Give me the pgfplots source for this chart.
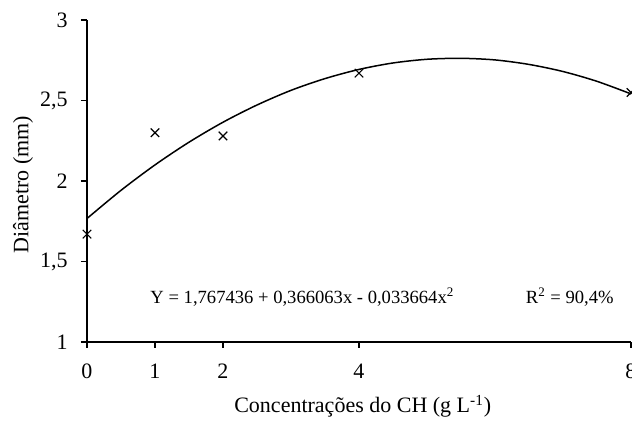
\documentclass[border=0pt]{standalone}
\usepackage{fontspec}
\setmainfont{Liberation Serif}
\usepackage{pgfplots}
\pgfplotsset{compat=1.18}
\begin{document}
\fontsize{11}{13}\selectfont
\begin{tikzpicture}
\begin{axis}[
  name=ax,
  scale only axis, width=272pt, height=161pt,
  xmin=0, xmax=8, ymin=1, ymax=3,
  axis x line*=bottom, axis y line*=left,
  axis line style={line width=0.6pt},
  xtick={0,1,2,4,8}, ytick={1,1.5,2,2.5,3},
  tick align=outside, major tick length=3pt,
  tick style={line width=0.6pt, black},
  /pgf/number format/use comma,
  /pgf/number format/assume math mode=true,
  ticklabel style={font=\fontsize{11}{13}\selectfont},
  xticklabel style={yshift=-4pt},
  yticklabel style={xshift=-2.8pt},
  xlabel={Concentrações do CH (g L\textsuperscript{-1})},
  ylabel={Diâmetro (mm)},
  label style={font=\fontsize{11}{13}\selectfont},
  xlabel style={at={(axis description cs:0.507,0)}, anchor=base, yshift=-35.5pt},
  ylabel style={at={(axis description cs:-0.1176,0.488)}, anchor=center, rotate=0},
  clip=false,
]
% curva ajustada
\addplot[smooth, line width=0.75pt, black] coordinates {
  (0,1.767) (0.5,1.942) (1,2.100) (1.5,2.241) (2,2.365) (2.5,2.472)
  (3,2.563) (3.5,2.636) (4,2.693) (4.5,2.733) (5,2.756) (5.5,2.762)
  (6,2.752) (6.5,2.724) (7,2.680) (7.5,2.619) (8,2.541)
};
% valores observados
\addplot[only marks, mark=x, mark size=3pt, mark options={line width=0.6pt}, black]
  coordinates {(0,1.67) (1,2.30) (2,2.28) (4,2.67) (8,2.55)};

\node[anchor=base west, font=\fontsize{9.3}{11}\selectfont] at (axis cs:0.82,1.236)
  {Y = 1,767436 + 0,366063x - 0,033664x\textsuperscript{2}};
\node[anchor=base west, font=\fontsize{9.3}{11}\selectfont] at (axis cs:6.34,1.236)
  {R\textsuperscript{2} = 90,4\%};
\end{axis}
\pgfresetboundingbox
\path[use as bounding box] ([shift={(-43.5pt,-39.5pt)}]ax.south west)
  rectangle ([shift={(0.5pt,10pt)}]ax.north east);
\end{tikzpicture}
\end{document}
